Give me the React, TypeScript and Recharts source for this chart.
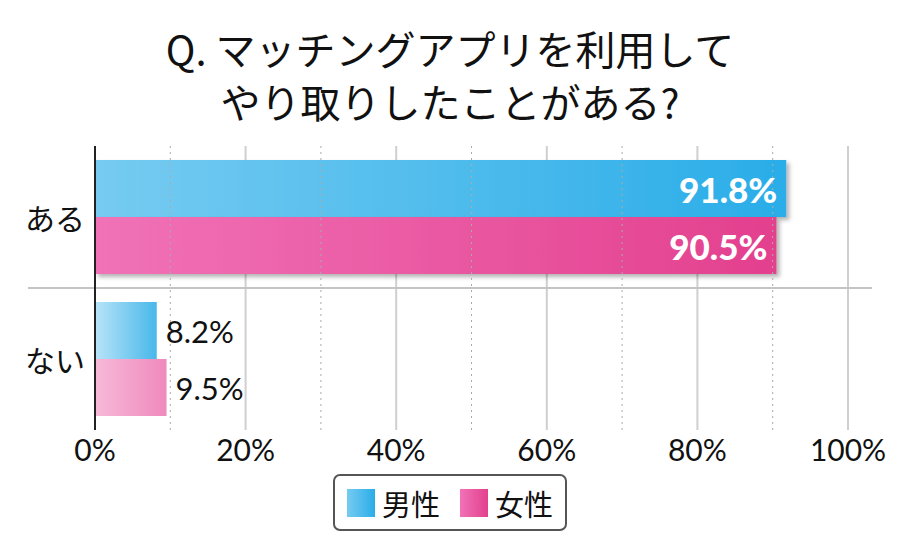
import { Bar, BarChart, CartesianGrid, Cell, LabelList, ReferenceLine, XAxis, YAxis } from 'recharts';

const categories = ['ある', 'ない'];
const maleValues = [91.8, 8.2];
const femaleValues = [90.5, 9.5];
const seriesNames = ['男性', '女性'];
const majorTicks = [0, 20, 40, 60, 80, 100];
const minorTicks = [10, 30, 50, 70, 90];
const titleLines = ['Q. マッチングアプリを利用して', 'やり取りしたことがある?'];

const data = categories.map((name, i) => ({ name, male: maleValues[i], female: femaleValues[i] }));

const JP = '"Noto Sans CJK JP", "Noto Sans", sans-serif';
const NUM = 'Lato, "Noto Sans", sans-serif';

// label inside the bar for the big category, outside for the small one
const makeLabel = () => (props: any) => {
  const { x, y, width, height, value, index } = props;
  const cy = y + height / 2;
  if (index === 0) {
    return (
      <text x={x + width - 9} y={cy} textAnchor="end" dominantBaseline="central"
        fill="#fff" fontSize={35} fontWeight={900} fontFamily={NUM}>
        {value}%
      </text>
    );
  }
  return (
    <text x={x + width + 9} y={cy} textAnchor="start" dominantBaseline="central"
      fill="#111" fontSize={31} fontFamily={NUM}>
      {value}%
    </text>
  );
};

const YTick = (props: any) => {
  const { x, y, payload } = props;
  return (
    <text x={x - 32} y={y} textAnchor="middle" dominantBaseline="central"
      fontSize={30} fontFamily={JP} fill="#111">
      {payload.value}
    </text>
  );
};

const App = () => {
  return (
    <div style={{ position: 'absolute', left: 0, top: 0, width: 900, height: 559, background: '#fff' }}>
      <div style={{ position: 'absolute', top: 22, left: 0, width: 900, textAlign: 'center', fontFamily: JP, fontSize: 40, lineHeight: '53px', color: '#111' }}>
        {titleLines.map((t) => <div key={t}>{t}</div>)}
      </div>

      <BarChart
        width={900}
        height={559}
        data={data}
        layout="vertical"
        margin={{ top: 146, right: 52, bottom: 99, left: 0 }}
        barGap={0}
      >
        <defs>
          <linearGradient id="maleStrong" x1="0" y1="0" x2="1" y2="0">
            <stop offset="0%" stopColor="#76cbf1" />
            <stop offset="100%" stopColor="#2aade8" />
          </linearGradient>
          <linearGradient id="femaleStrong" x1="0" y1="0" x2="1" y2="0">
            <stop offset="0%" stopColor="#f172b7" />
            <stop offset="100%" stopColor="#e3408e" />
          </linearGradient>
          <linearGradient id="maleLight" x1="0" y1="0" x2="1" y2="0">
            <stop offset="0%" stopColor="#b8e4f8" />
            <stop offset="100%" stopColor="#48b8ea" />
          </linearGradient>
          <linearGradient id="femaleLight" x1="0" y1="0" x2="1" y2="0">
            <stop offset="0%" stopColor="#f7b9d8" />
            <stop offset="100%" stopColor="#ef8abd" />
          </linearGradient>
          <filter id="barShadow" x="-5%" y="-20%" width="115%" height="150%">
            <feDropShadow dx="3" dy="3" stdDeviation="2" floodColor="#000" floodOpacity="0.3" />
          </filter>
        </defs>
        <CartesianGrid horizontal={false} stroke="#cfcfcf" strokeWidth={2} />
        {minorTicks.map((t) => (
          <ReferenceLine key={t} x={t} stroke="#aaa" strokeDasharray="2 4" strokeWidth={1} />
        ))}
        <ReferenceLine
          y={categories[0]}
          position="end"
          ifOverflow="visible"
          shape={(p: any) => (
            <line x1={p.x1 - 67} y1={p.y1} x2={p.x2 + 24} y2={p.y2} stroke="#c4c4c4" strokeWidth={2} />
          )}
        />
        <XAxis
          type="number"
          domain={[0, 100]}
          ticks={majorTicks}
          tickFormatter={(v) => `${v}%`}
          axisLine={false}
          tickLine={false}
          tick={{ fill: '#111', fontSize: 30, fontFamily: NUM }}
          tickMargin={4}
        />
        <YAxis
          type="category"
          dataKey="name"
          width={95}
          axisLine={{ stroke: '#222', strokeWidth: 2 }}
          tickLine={false}
          tick={<YTick />}
        />
        <Bar dataKey="male" name={seriesNames[0]} barSize={57} isAnimationActive={false}>
          {data.map((d, i) => (
            <Cell key={d.name} fill={i === 0 ? 'url(#maleStrong)' : 'url(#maleLight)'}
              filter={i === 0 ? 'url(#barShadow)' : undefined} />
          ))}
          <LabelList dataKey="male" content={makeLabel()} />
        </Bar>
        <Bar dataKey="female" name={seriesNames[1]} barSize={57} isAnimationActive={false}>
          {data.map((d, i) => (
            <Cell key={d.name} fill={i === 0 ? 'url(#femaleStrong)' : 'url(#femaleLight)'}
              filter={i === 0 ? 'url(#barShadow)' : undefined} />
          ))}
          <LabelList dataKey="female" content={makeLabel()} />
        </Bar>
      </BarChart>

      <div style={{
        position: 'absolute', left: 333, top: 474, width: 230, height: 53,
        border: '2px solid #555', borderRadius: 7, display: 'flex', alignItems: 'center',
        justifyContent: 'center', gap: 20, fontFamily: JP, fontSize: 29, color: '#111',
      }}>
        {seriesNames.map((n, i) => (
          <div key={n} style={{ display: 'flex', alignItems: 'center', gap: 7 }}>
            <span style={{
              display: 'inline-block', width: 28, height: 28,
              background: i === 0 ? 'linear-gradient(to right, #76cbf1, #2aade8)' : 'linear-gradient(to right, #f172b7, #e3408e)',
            }} />
            <span>{n}</span>
          </div>
        ))}
      </div>
    </div>
  );
};

export default App;
